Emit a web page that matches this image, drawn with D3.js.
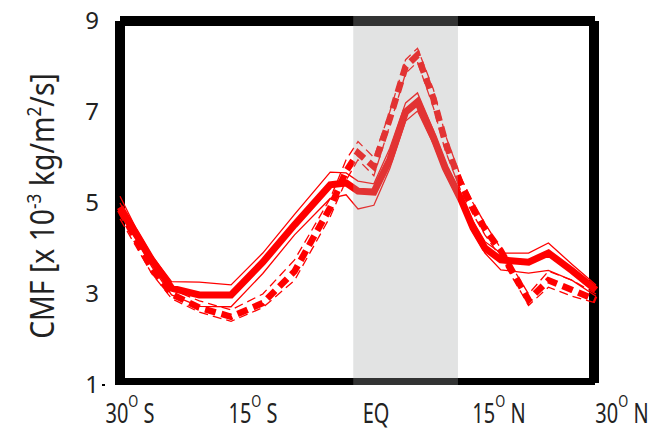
<!DOCTYPE html>
<html>
<head>
<meta charset="utf-8">
<script src="https://d3js.org/d3.v7.min.js"></script>
<style>
  html, body { margin: 0; padding: 0; background: #fff; }
  svg { display: block; }
  text { font-family: "Noto Sans", "Open Sans", sans-serif; fill: #222; }
</style>
</head>
<body>
<svg id="chart" width="651" height="431"></svg>
<script>
// Latitude grid (degrees, negative = south)
const lat = [-30, -28, -26, -23.5, -20, -16, -12, -8, -3.5, -1.5, 0, 2, 4, 6, 7.5, 9.5, 11, 13, 14.5, 16, 18, 21.5, 24, 27, 30];

// Solid-line ensemble: mean and spread envelope [x 10^-3 kg/m^2/s]
const solidMean = [4.91, 4.34, 3.75, 3.13, 2.98, 2.98, 3.70, 4.52, 5.40, 5.44, 5.26, 5.24, 5.95, 7.00, 7.22, 6.45, 5.77, 5.07, 4.45, 4.01, 3.75, 3.70, 3.90, 3.51, 3.09];
const solidHigh = [5.15, 4.45, 3.85, 3.27, 3.26, 3.20, 3.90, 4.75, 5.68, 5.66, 5.48, 5.42, 6.20, 7.20, 7.42, 6.60, 5.90, 5.20, 4.60, 4.15, 3.90, 3.90, 4.12, 3.65, 3.20];
const solidLow  = [4.75, 4.20, 3.60, 2.98, 2.73, 2.72, 3.45, 4.30, 5.10, 5.18, 4.87, 4.95, 5.75, 6.80, 7.02, 6.30, 5.65, 4.95, 4.35, 3.90, 3.53, 3.46, 3.52, 3.30, 2.95];

// Dashed-line ensemble: mean and spread envelope
const dashMean = [4.85, 4.20, 3.55, 3.00, 2.70, 2.50, 2.80, 3.50, 4.90, 5.70, 6.10, 5.80, 6.85, 8.00, 8.25, 7.30, 6.34, 5.40, 4.90, 4.43, 3.95, 2.87, 3.30, 3.09, 2.87];
const dashHigh = [5.00, 4.35, 3.70, 3.10, 2.85, 2.65, 3.00, 3.75, 5.10, 5.95, 6.35, 6.00, 7.00, 8.15, 8.40, 7.50, 6.50, 5.55, 5.00, 4.55, 4.00, 3.00, 3.50, 3.30, 3.00];
const dashLow  = [4.65, 4.05, 3.45, 2.90, 2.60, 2.40, 2.70, 3.30, 4.70, 5.50, 5.95, 5.60, 6.70, 7.85, 8.10, 7.10, 6.15, 5.25, 4.75, 4.30, 3.80, 2.75, 3.15, 2.95, 2.80];

// Axis ticks
const yTicks = [1, 3, 5, 7, 9];
const xTickLat = [-30, -15, 0, 15, 30];
const xTickNum = ["30", "15", "EQ", "15", "30"];
const xTickHemi = ["S", "S", "", "N", "N"];

// Shaded equatorial band (degrees latitude)
const bandLat = [-0.6, 12.6];

const svg = d3.select("#chart");

const x = d3.scaleLinear().domain([-30, 30]).range([120, 596]);
const y = d3.scaleLinear().domain([1, 9]).range([385, 21]);
const xLabel = d3.scaleLinear().domain([-30, 30]).range([130, 622]);

// Frame
const frame = svg.append("g").attr("fill", "#000");
frame.append("rect").attr("x", 120).attr("y", 16).attr("width", 475).attr("height", 10);
frame.append("rect").attr("x", 120).attr("y", 378).attr("width", 475).attr("height", 7);
frame.append("rect").attr("x", 115).attr("y", 21).attr("width", 10).attr("height", 364);
frame.append("rect").attr("x", 589).attr("y", 21).attr("width", 10).attr("height", 362);
frame.append("rect").attr("x", 102).attr("y", y(1) - 1).attr("width", 3).attr("height", 2);

// Lines
const line = d3.line().x((d, i) => x(lat[i])).y(d => y(d));

const series = [
  { v: solidHigh, w: 1.3, dash: null },
  { v: solidLow,  w: 1.3, dash: null },
  { v: dashHigh,  w: 1.3, dash: "9,5" },
  { v: dashLow,   w: 1.3, dash: "9,5" },
  { v: dashMean,  w: 6.5, dash: "11,6" },
  { v: solidMean, w: 7,   dash: null }
];

svg.append("g")
  .selectAll("path")
  .data(series)
  .join("path")
  .attr("d", s => line(s.v))
  .attr("fill", "none")
  .attr("stroke", "#ff0000")
  .attr("stroke-width", s => s.w)
  .attr("stroke-dasharray", s => s.dash)
  .attr("stroke-linejoin", "miter");

// Equatorial band, translucent over lines and frame
svg.append("rect")
  .attr("x", x(bandLat[0]))
  .attr("width", x(bandLat[1]) - x(bandLat[0]))
  .attr("y", 16)
  .attr("height", 369)
  .attr("fill", "#a2a5a5")
  .attr("fill-opacity", 0.31);

// Y tick labels
svg.append("g")
  .selectAll("text")
  .data(yTicks)
  .join("text")
  .attr("x", 99)
  .attr("y", d => y(d))
  .attr("dy", "0.35em")
  .attr("text-anchor", "end")
  .style("font-size", "24px")
  .text(d => d);

// X tick labels with degree mark as superscript O (narrow, tall lettering)
const xt = svg.append("g")
  .selectAll("text")
  .data(xTickLat)
  .join("text")
  .attr("transform", d => `translate(${xLabel(d)},423) scale(0.8,1.06)`)
  .attr("text-anchor", "middle")
  .style("font-size", "25px");
xt.append("tspan").text((d, i) => xTickNum[i]);
xt.filter((d, i) => xTickHemi[i] !== "")
  .append("tspan").attr("dy", -15).style("font-size", "16px").text("O");
xt.filter((d, i) => xTickHemi[i] !== "")
  .append("tspan").attr("dy", 15).text(d => " " + xTickHemi[xTickLat.indexOf(d)]);

// Y axis title
const yt = svg.append("text")
  .attr("transform", "translate(54,206) rotate(-90) scale(0.86,1)")
  .attr("text-anchor", "middle")
  .style("font-size", "33px");
yt.append("tspan").text("CMF [x 10");
yt.append("tspan").attr("dy", -13).style("font-size", "20px").text("-3");
yt.append("tspan").attr("dy", 13).text(" kg/m");
yt.append("tspan").attr("dy", -13).style("font-size", "20px").text("2");
yt.append("tspan").attr("dy", 13).text("/s]");
</script>
</body>
</html>
